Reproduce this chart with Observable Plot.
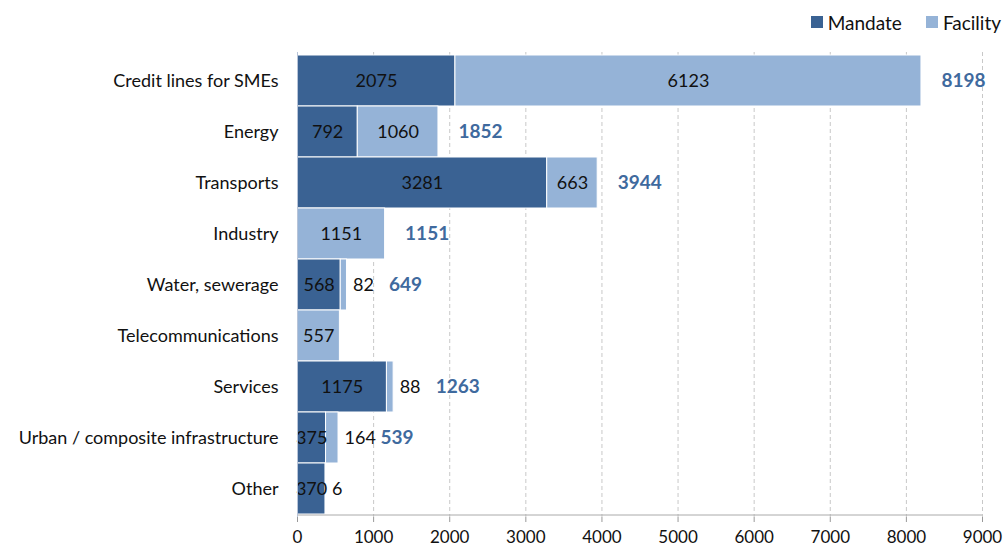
<!DOCTYPE html>
<html>
<head>
<meta charset="utf-8">
<script src="https://cdn.jsdelivr.net/npm/d3@7"></script>
<script src="https://cdn.jsdelivr.net/npm/@observablehq/plot@0.6"></script>
<style>
  html, body { margin: 0; padding: 0; background: #fff; }
  body { width: 1003px; height: 548px; overflow: hidden; font-family: Lato, "Open Sans", sans-serif; }
  #legend { height: 44px; display: flex; justify-content: flex-end; align-items: center; padding-right: 2px; box-sizing: border-box; font-size: 19px; color: #111; }
  .item { display: flex; align-items: center; margin-left: 24px; }
  .sw { width: 12px; height: 12px; margin-right: 5px; }
  #chart svg { display: block; }
</style>
</head>
<body>
<div id="legend"></div>
<div id="chart"></div>
<script>
const categories = ["Credit lines for SMEs","Energy","Transports","Industry","Water, sewerage","Telecommunications","Services","Urban / composite infrastructure","Other"];
const mandate  = [2075, 792, 3281, 0, 568, 0, 1175, 375, 370];
const facility = [6123, 1060, 663, 1151, 82, 557, 88, 164, 6];
const totals   = [8198, 1852, 3944, 1151, 649, null, 1263, 539, null];
const seriesNames = ["Mandate", "Facility"];
const xTicks = [0,1000,2000,3000,4000,5000,6000,7000,8000,9000];

const colors = {Mandate: "#3A6293", Facility: "#95B3D7"};

const rows = [];
categories.forEach((c, i) => {
  rows.push({cat: c, series: "Mandate", x1: 0, x2: mandate[i], v: mandate[i]});
  rows.push({cat: c, series: "Facility", x1: mandate[i], x2: mandate[i] + facility[i], v: facility[i]});
});
const bars = rows.filter(d => d.v > 0);
const mandLabels = bars.filter(d => d.series === "Mandate");
const facWide = bars.filter(d => d.series === "Facility" && d.v >= 200);
const facNarrow = bars.filter(d => d.series === "Facility" && d.v < 200);
const totRows = categories.map((c, i) => ({cat: c, t: totals[i], narrow: facility[i] < 200}))
  .filter(d => d.t != null);

const legend = document.getElementById("legend");
seriesNames.forEach(s => {
  const it = document.createElement("div");
  it.className = "item";
  it.innerHTML = `<span class="sw" style="background:${colors[s]}"></span><span>${s}</span>`;
  legend.appendChild(it);
});

const chart = Plot.plot({
  width: 1003,
  height: 504,
  marginTop: 8,
  marginBottom: 31,
  marginLeft: 297,
  marginRight: 21,
  style: {fontFamily: "Lato, 'Open Sans', sans-serif", fontSize: "18px", color: "#111"},
  x: {domain: [0, 9000], ticks: xTicks, label: null},
  y: {domain: categories, label: null, padding: 0, tickSize: 0, tickPadding: 19},
  marks: [
    Plot.ruleX(xTicks.slice(1), {stroke: "#c8c8c8", strokeDasharray: "4,3", strokeWidth: 1}),
    Plot.barX(bars, {y: "cat", x1: "x1", x2: "x2", fill: d => colors[d.series], stroke: "white", strokeWidth: 1}),
    Plot.text(mandLabels, {y: "cat", x: d => (d.x1 + d.x2) / 2, text: d => String(d.v), fill: "#111", fontSize: 18}),
    Plot.text(facWide, {y: "cat", x: d => (d.x1 + d.x2) / 2, text: d => String(d.v), fill: "#111", fontSize: 18}),
    Plot.text(facNarrow, {y: "cat", x: "x2", text: d => String(d.v), textAnchor: "start", dx: 6, fill: "#111", fontSize: 18}),
    Plot.text(totRows.filter(d => !d.narrow), {y: "cat", x: "t", text: d => String(d.t), textAnchor: "start", dx: 20, fill: "#3F6A9E", fontWeight: "bold", fontSize: 19}),
    Plot.text(totRows.filter(d => d.narrow), {y: "cat", x: "t", text: d => String(d.t), textAnchor: "start", dx: 42, fill: "#3F6A9E", fontWeight: "bold", fontSize: 19}),
    Plot.axisX({ticks: xTicks, tickSize: 5, tickPadding: 8, stroke: "#999", fill: "#111", fontSize: 17, tickFormat: d => String(d)}),
    Plot.ruleY([categories[categories.length - 1]], {dy: 26, stroke: "#aaa"}),
    Plot.ruleX([0], {stroke: "#b8c4d8"})
  ]
});
document.getElementById("chart").appendChild(chart);
</script>
</body>
</html>
